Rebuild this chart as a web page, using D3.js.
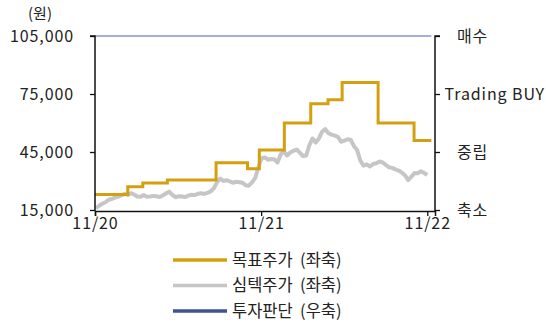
<!DOCTYPE html>
<html><head><meta charset="utf-8">
<script src="https://cdn.jsdelivr.net/npm/d3@7"></script>
<style>
body{margin:0;background:#fff;}
text{font-family:"Noto Sans CJK KR","Noto Sans",sans-serif;fill:#222;}
</style></head>
<body><svg id="c" width="546" height="327"></svg>
<script>
// ---- data ----
const leftTicks = [15000, 45000, 75000, 105000];
const rightLabels = ["축소", "중립", "Trading BUY", "매수"];
const xTickDates = ["2020-11-01", "2021-11-01", "2022-11-01"];
const xTickLabels = ["11/20", "11/21", "11/22"];
const stockStart = "2020-11-03"; // weekly closes
const stockWeekly = [16000,17200,18200,19000,20300,20700,21500,21900,22600,23300,
 22800,23700,23000,22000,21800,22800,21900,22000,22300,22100,
 21700,22500,23600,24500,22800,21600,22100,22000,21700,22400,
 22900,22700,23400,23700,23300,23900,24600,26200,29300,31300,
 30000,30400,29800,29100,29600,29400,29100,27800,27600,29300,
 31600,37000,41800,42200,41000,41400,41300,39500,43800,45200,
 43200,44700,45600,46300,44700,42900,43200,48600,52000,49900,
 52000,55500,56800,54700,54000,53500,52700,50300,50900,51600,
 51200,48000,46000,40500,38000,38600,37500,38800,39200,40100,
 39600,38300,37100,36800,36000,35400,34400,33000,30500,32200,
 34100,34000,35000,34200,33100];
const targetDates = ["2020-11-01","2021-01-12","2021-02-14","2021-04-09","2021-07-25","2021-10-02",
 "2021-10-28","2021-12-22","2022-02-18","2022-03-28","2022-04-28","2022-07-16","2022-10-03","2022-11-10"];
const targetValues = [23000,27000,29000,30500,39500,36400,46000,60000,70000,72000,81000,60000,51000,51000];
const opinionDates = ["2020-11-01","2022-11-10"];
const opinionValues = [3,3]; // 매수
const legendNames = ["목표주가  (좌축)", "심텍주가  (좌축)", "투자판단  (우축)"];

// ---- chart ----
const svg = d3.select("#c");
const parse = d3.timeParse("%Y-%m-%d");
const L = 95, R = 435, T = 36, B = 210;
const x = d3.scaleTime().domain([parse("2020-11-01"), parse("2022-11-18")]).range([L, R]);
const y = d3.scaleLinear().domain([15000, 105000]).range([B, T]);
const yr = d3.scaleLinear().domain([0, 3]).range([B, T]);

const gold = "#d4a00f", gray = "#c6c6c6", navy = "#3f5394";
const FONT = '"Noto Sans CJK KR","Noto Sans",sans-serif';

// opinion line
svg.append("path")
  .datum(opinionDates.map((d,i)=>({d:parse(d), v:opinionValues[i]})))
  .attr("fill","none").attr("stroke","#8796c9").attr("stroke-width",1.3)
  .attr("d", d3.line().x(p=>x(p.d)).y(p=>yr(p.v)));

// stock line
const s0 = parse(stockStart);
const stock = stockWeekly.map((v,i)=>({d:d3.timeDay.offset(s0, 7*i), v}));
svg.append("path").datum(stock)
  .attr("fill","none").attr("stroke",gray).attr("stroke-width",4)
  .attr("stroke-linejoin","round")
  .attr("d", d3.line().x(p=>x(p.d)).y(p=>y(p.v)));

// target price step line
const target = targetDates.map((d,i)=>({d:parse(d), v:targetValues[i]}));
svg.append("path").datum(target)
  .attr("fill","none").attr("stroke",gold).attr("stroke-width",3)
  .attr("d", d3.line().curve(d3.curveStepAfter).x(p=>x(p.d)).y(p=>y(p.v)));

// axes
const fmt = d3.format(",");
const ga = svg.append("g").attr("transform",`translate(${L},0)`)
  .call(d3.axisLeft(y).tickValues(leftTicks).tickFormat(fmt).tickSize(5).tickPadding(16));
const gb = svg.append("g").attr("transform",`translate(0,${B+1})`)
  .call(d3.axisBottom(x).tickValues(xTickDates.map(parse)).tickFormat((d,i)=>xTickLabels[i]).tickSize(5).tickPadding(0));
const gr = svg.append("g").attr("transform",`translate(${R},0)`)
  .call(d3.axisRight(yr).tickValues([0,1,2,3]).tickFormat((d)=>rightLabels[d]).tickSize(5).tickPadding(17));
[ga,gb,gr].forEach(g=>{
  g.select(".domain").attr("stroke","#111").attr("stroke-width",1.5);
  g.selectAll(".tick line").attr("stroke","#111").attr("stroke-width",1.3);
  g.selectAll("text").attr("font-size",16).attr("fill","#222")
    .attr("letter-spacing",0.9).style("font-family",FONT);
});
ga.select(".domain").attr("d",`M-5,${T}H0V${B+1}`);
gr.select(".domain").attr("d",`M5,${T}H0V${B+1}`);
gb.selectAll("text").attr("dy","0.8em");
gr.selectAll("text").each(function(){
  const w = this.getComputedTextLength();
  const xx = +d3.select(this).attr("x");
  if (R + xx + w > 545) d3.select(this).attr("x", 545 - R - w);
});

// unit
svg.append("text").attr("x",40).attr("y",19).attr("text-anchor","middle")
  .attr("font-size",15).text("(원)");

// legend
const lg = svg.append("g");
[gold, gray, navy].forEach((c,i)=>{
  const yy = 260 + i*25.5;
  lg.append("line").attr("x1",173).attr("x2",227).attr("y1",yy).attr("y2",yy)
    .attr("stroke",c).attr("stroke-width",3.5);
  lg.append("text").attr("x",232).attr("y",yy).attr("dy","0.36em")
    .attr("xml:space","preserve").style("white-space","pre")
    .attr("font-size",16.5).text(legendNames[i]);
});
</script></body></html>
